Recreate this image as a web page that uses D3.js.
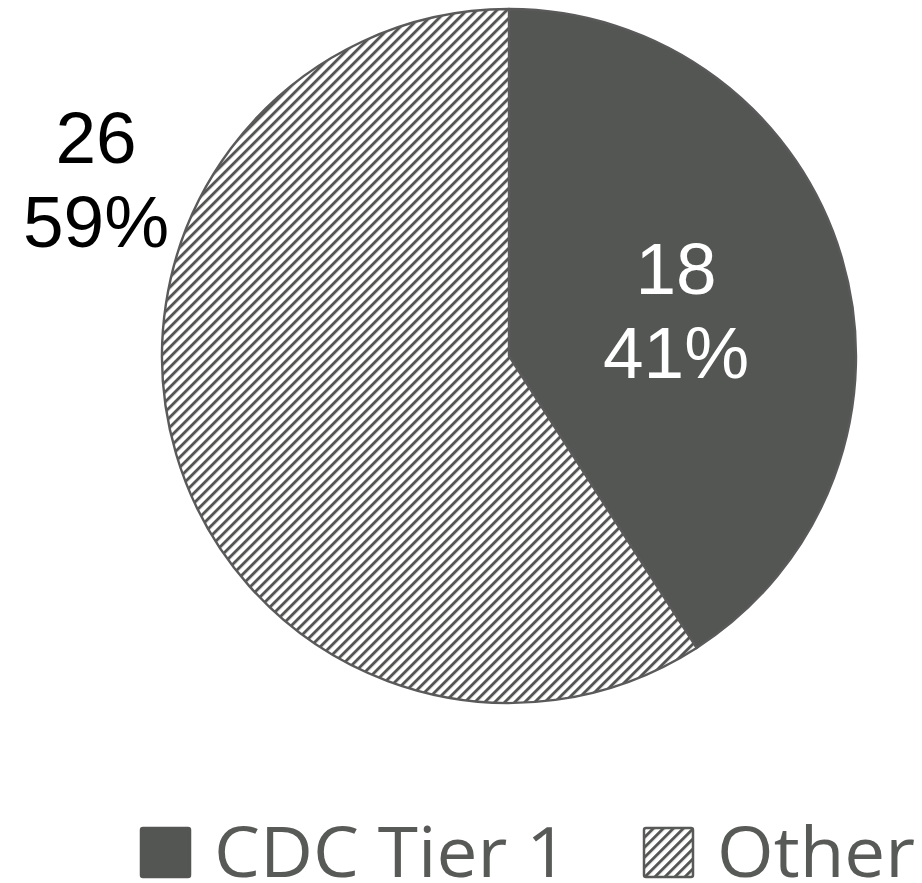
<!DOCTYPE html>
<html>
<head>
<meta charset="utf-8">
<script src="https://cdn.jsdelivr.net/npm/d3@7/dist/d3.min.js"></script>
<style>
  html, body { margin: 0; padding: 0; background: #ffffff; }
  svg { display: block; }
</style>
</head>
<body>
<script>
// Share of categories
const categories = ["CDC Tier 1", "Other"];
const counts = [18, 26];

const width = 922, height = 883;
const cx = 509, cy = 356, radius = 347;

const darkFill = "#545653";
const edgeColor = "#5a5a5a";
const legendColor = "#585a57";

const svg = d3.select("body").append("svg")
  .attr("width", width)
  .attr("height", height);

// Diagonal hatch used for the "Other" slice
const defs = svg.append("defs");
const hatch = defs.append("pattern")
  .attr("id", "hatch")
  .attr("patternUnits", "userSpaceOnUse")
  .attr("width", 7.07)
  .attr("height", 7.07)
  .attr("patternTransform", "rotate(45)");
hatch.append("rect").attr("width", 7.07).attr("height", 7.07).attr("fill", "#ffffff");
hatch.append("rect").attr("x", 0).attr("width", 2.9).attr("height", 7.07).attr("fill", darkFill);

const fills = [darkFill, "url(#hatch)"];

const pie = d3.pie().sort(null).value(d => d)(counts);
const arc = d3.arc().innerRadius(0).outerRadius(radius);

const g = svg.append("g").attr("transform", `translate(${cx},${cy})`);

g.selectAll("path.slice")
  .data(pie)
  .join("path")
  .attr("class", "slice")
  .attr("d", arc)
  .attr("fill", (d, i) => fills[i])
  .attr("stroke", edgeColor)
  .attr("stroke-width", 2.4)
  .attr("stroke-linejoin", "round");

// Value and percentage labels
const total = d3.sum(counts);
const labelPos = [
  { x: 676, y1: 294, y2: 378, color: "#ffffff" },
  { x: 96, y1: 163, y2: 247, color: "#000000" }
];

pie.forEach((d, i) => {
  const p = labelPos[i];
  const pct = Math.round(d.value / total * 100) + "%";
  const t = svg.append("text")
    .attr("text-anchor", "middle")
    .attr("font-family", "'Liberation Sans', Arial, sans-serif")
    .attr("font-size", 73)
    .attr("fill", p.color);
  t.append("tspan").attr("x", p.x).attr("y", p.y1).text(d.value);
  t.append("tspan").attr("x", p.x).attr("y", p.y2).text(pct);
});

// Legend
const legendItems = [
  { sx: 140, tx: 214, tw: 354 },
  { sx: 643, tx: 717, tw: 198 }
];
const lg = svg.append("g");
categories.forEach((c, i) => {
  const it = legendItems[i];
  lg.append("rect")
    .attr("x", it.sx + 1)
    .attr("y", 828)
    .attr("width", 49)
    .attr("height", 49)
    .attr("rx", 2)
    .attr("fill", fills[i])
    .attr("stroke", i === 0 ? darkFill : legendColor)
    .attr("stroke-width", 2.5);
  lg.append("text")
    .attr("x", it.tx)
    .attr("y", 877)
    .attr("font-family", "'Open Sans', 'Noto Sans', sans-serif")
    .attr("font-size", 70)
    .attr("fill", legendColor)
    .attr("textLength", it.tw)
    .attr("lengthAdjust", "spacingAndGlyphs")
    .text(c);
});
</script>
</body>
</html>
